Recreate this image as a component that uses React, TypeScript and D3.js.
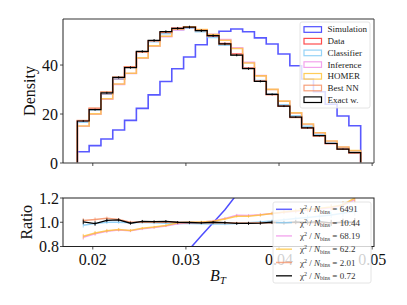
import React from 'react';
import * as d3 from 'd3';

const binLo = 0.01834;
const binHi = 0.04877;
const nBins = 24;

const dataHist = [17.1, 22.0, 28.2, 34.3, 39.3, 45.2, 49.8, 53.2, 55.0, 55.6, 54.3, 52.0, 48.8, 44.5, 38.9, 33.6, 28.0, 23.3, 18.7, 14.4, 11.1, 8.0, 5.7, 4.2];
const simHist = [4.6, 7.1, 9.8, 13.5, 17.4, 22.3, 27.8, 33.3, 38.5, 43.3, 48.3, 51.8, 53.8, 54.7, 53.6, 51.1, 48.6, 44.5, 39.7, 34.3, 29.1, 24.0, 19.2, 15.2];
const classRatio = [0.976, 0.99, 1.0, 1.0, 0.995, 1.0, 0.995, 0.992, 0.99, 0.99, 0.988, 0.985, 0.986, 0.99, 0.995, 1.003, 1.01, 1.02, 1.03, 1.04, 1.05, 1.06, 1.075, 1.09];
const infRatio = [0.876, 0.905, 0.925, 0.936, 0.93, 0.946, 0.957, 0.97, 0.988, 0.996, 1.0, 1.01, 1.032, 1.058, 1.056, 1.062, 1.072, 1.082, 1.09, 1.1, 1.11, 1.12, 1.14, 1.185];
const homerRatio = [0.884, 0.911, 0.93, 0.94, 0.932, 0.95, 0.96, 0.973, 0.995, 1.0, 1.003, 1.008, 1.027, 1.05, 1.049, 1.059, 1.073, 1.085, 1.095, 1.105, 1.115, 1.125, 1.145, 1.2];
const bestRatio = [1.014, 1.022, 1.032, 1.022, 1.0, 1.002, 1.0, 1.003, 0.998, 0.997, 0.996, 0.998, 0.995, 0.993, 0.994, 0.996, 0.998, 0.995, 0.997, 0.994, 0.996, 0.993, 0.995, 0.997];
const exactRatio = [1.003, 0.989, 1.016, 1.019, 0.992, 1.008, 1.005, 1.008, 1.0, 0.998, 0.995, 1.0, 0.997, 0.99, 0.99, 0.993, 1.0, 0.995, 1.002, 0.998, 1.005, 0.995, 1.0, 1.0];
const ratioErr = [0.02, 0.017, 0.015, 0.013, 0.012, 0.011, 0.011, 0.01, 0.01, 0.01, 0.01, 0.01, 0.011, 0.011, 0.012, 0.013, 0.014, 0.015, 0.017, 0.019, 0.022, 0.025, 0.03, 0.035];

const histNames = ['Simulation', 'Data', 'Classifier', 'Inference', 'HOMER', 'Best NN', 'Exact w.'];
const histColors = ['#2222ff', '#ff2020', '#7cc8f5', '#f08ce8', '#ffc030', '#f5885a', '#000000'];
const chi2Labels = ['6491', '10.44', '68.19', '62.2', '2.01', '0.72'];

const xTicks = [0.02, 0.03, 0.04, 0.05];
const yTicksTop = [0, 20, 40];
const yTicksRatio = [0.8, 1.0, 1.2];

const FONT = "'Liberation Serif', 'DejaVu Serif', serif";

export default function App() {
  const L = 63, R = 374;
  const T1 = 19, B1 = 163;
  const T2 = 198, B2 = 246.5;

  const x = d3.scaleLinear().domain([0.0168, 0.0502]).range([L, R]);
  const y1 = d3.scaleLinear().domain([0, 58.8]).range([B1, T1]);
  const y2 = d3.scaleLinear().domain([0.8, 1.2]).range([B2, T2]);

  const edges = d3.range(nBins + 1).map(i => binLo + (i * (binHi - binLo)) / nBins);
  const centers = d3.range(nBins).map(i => (edges[i] + edges[i + 1]) / 2);

  const ratios = [
    dataHist.map((d, i) => simHist[i] / d),
    classRatio,
    infRatio,
    homerRatio,
    bestRatio,
    exactRatio,
  ];
  const hists = [
    simHist,
    dataHist,
    ...ratios.slice(1).map(r => r.map((v, i) => v * dataHist[i])),
  ];

  const stepPath = (vals: number[]) => {
    let p = `M${x(edges[0])},${y1(0)}`;
    vals.forEach((v, i) => {
      p += `L${x(edges[i])},${y1(v)}L${x(edges[i + 1])},${y1(v)}`;
    });
    p += `L${x(edges[nBins])},${y1(0)}`;
    return p;
  };

  const ratioLine = d3.line<number>().x((_, i) => x(centers[i])).y(v => y2(v));
  const ratioColors = [histColors[0], histColors[2], histColors[3], histColors[4], histColors[5], histColors[6]];

  const tickFs = 16;

  return (
    <svg width={407} height={305} style={{ position: 'absolute', left: 0, top: 0, background: '#fff' }} fontFamily={FONT}>
      <defs>
        <clipPath id="clipTop"><rect x={L} y={T1} width={R - L} height={B1 - T1} /></clipPath>
        <clipPath id="clipRatio"><rect x={L} y={T2} width={R - L} height={B2 - T2} /></clipPath>
      </defs>

      {/* top panel histograms */}
      <g clipPath="url(#clipTop)">
        {hists.map((h, k) => (
          <path key={k} d={stepPath(h)} fill="none" stroke={histColors[k]}
            strokeWidth={k === 6 ? 1.2 : 1.6} strokeOpacity={k === 6 ? 1 : 0.75} />
        ))}
        {hists[6].map((v, i) => (
          <line key={'e' + i} x1={x(centers[i])} x2={x(centers[i])}
            y1={y1(v * (1 - ratioErr[i]))} y2={y1(v * (1 + ratioErr[i]))} stroke="#000" strokeWidth={1} />
        ))}
      </g>

      {/* top panel axes */}
      <line x1={L} x2={R} y1={T1} y2={T1} stroke="#999" strokeWidth={2} />
      <line x1={L} x2={R} y1={B1} y2={B1} stroke="#777" strokeWidth={1.5} />
      <line x1={L} x2={L} y1={T1} y2={B1} stroke="#222" strokeWidth={1} />
      <line x1={R} x2={R} y1={T1} y2={B1} stroke="#444" strokeWidth={1} />
      {xTicks.map(t => (
        <line key={t} x1={x(t)} x2={x(t)} y1={B1} y2={B1 + 3} stroke="#222" strokeWidth={0.8} />
      ))}
      {yTicksTop.map(t => (
        <g key={t}>
          <line x1={L - 3} x2={L} y1={y1(t)} y2={y1(t)} stroke="#222" strokeWidth={0.8} />
          <text x={L - 5} y={y1(t)} dy="0.35em" textAnchor="end" fontSize={tickFs} fill="#111">{t}</text>
        </g>
      ))}
      <text transform={`translate(30,${(T1 + B1) / 2}) rotate(-90)`} textAnchor="middle" fontSize={16} fill="#111" dy="0.3em">Density</text>

      {/* top legend */}
      <g>
        <rect x={300} y={22} width={70} height={86} rx={2} fill="#fff" fillOpacity={0.8} stroke="#ddd" strokeWidth={0.8} />
        {histNames.map((n, i) => (
          <g key={n} transform={`translate(0,${29.5 + i * 11.7})`}>
            <rect x={304} y={-2.8} width={17.5} height={5.6} fill="none" stroke={histColors[i]}
              strokeWidth={1.2} strokeOpacity={i === 6 ? 1 : 0.8} />
            <text x={327.5} y={0} dy="0.33em" fontSize={9} fill="#222">{n}</text>
          </g>
        ))}
      </g>

      {/* ratio panel */}
      <g clipPath="url(#clipRatio)">
        {ratios.map((r, k) => (
          <g key={k}>
            <path d={ratioLine(r) || ''} fill="none" stroke={ratioColors[k]}
              strokeWidth={k === 5 ? 1.3 : 1.5} strokeOpacity={k === 5 ? 1 : 0.8} />
            {k > 0 && r.map((v, i) => (
              <line key={i} x1={x(centers[i])} x2={x(centers[i])}
                y1={y2(v - ratioErr[i])} y2={y2(v + ratioErr[i])}
                stroke={ratioColors[k]} strokeWidth={0.9} strokeOpacity={k === 5 ? 1 : 0.7} />
            ))}
          </g>
        ))}
      </g>
      <rect x={L} y={T2} width={R - L} height={B2 - T2} fill="none" stroke="#222" strokeWidth={1} />
      {xTicks.map(t => (
        <g key={t}>
          <line x1={x(t)} x2={x(t)} y1={B2} y2={B2 + 3} stroke="#222" strokeWidth={0.8} />
          <text x={x(t)} y={B2 + 18} textAnchor="middle" fontSize={tickFs} fill="#111">{d3.format('.2f')(t)}</text>
        </g>
      ))}
      {yTicksRatio.map(t => (
        <g key={t}>
          <line x1={L - 3} x2={L} y1={y2(t)} y2={y2(t)} stroke="#222" strokeWidth={0.8} />
          <text x={L - 4} y={y2(t)} dy="0.35em" textAnchor="end" fontSize={tickFs} fill="#111">{d3.format('.1f')(t)}</text>
        </g>
      ))}
      <text transform={`translate(27,${(T2 + B2) / 2}) rotate(-90)`} textAnchor="middle" fontSize={16} fill="#111" dy="0.3em">Ratio</text>
      <text x={210} y={281} fontSize={16} fill="#111" fontStyle="italic">B<tspan dy={3} fontSize={11}>T</tspan></text>

      {/* ratio legend */}
      <g>
        <rect x={273} y={202} width={98} height={81} rx={2} fill="#fff" fillOpacity={0.8} stroke="#ddd" strokeWidth={0.8} />
        {chi2Labels.map((c, i) => (
          <g key={c} transform={`translate(0,${209.3 + i * 13.3})`}>
            <line x1={276} x2={292} y1={0} y2={0} stroke={ratioColors[i]} strokeWidth={1.5} strokeOpacity={i === 5 ? 0.85 : 0.7} />
            <text x={300} y={0} dy="0.35em" fontSize={9} fill="#333">
              χ<tspan dy={-3} fontSize={6}>2</tspan>
              <tspan dy={3}> / </tspan>
              <tspan fontStyle="italic">N</tspan>
              <tspan dy={1.5} fontSize={6}>bins</tspan>
              <tspan dy={-1.5}> = {c}</tspan>
            </text>
          </g>
        ))}
      </g>
    </svg>
  );
}
